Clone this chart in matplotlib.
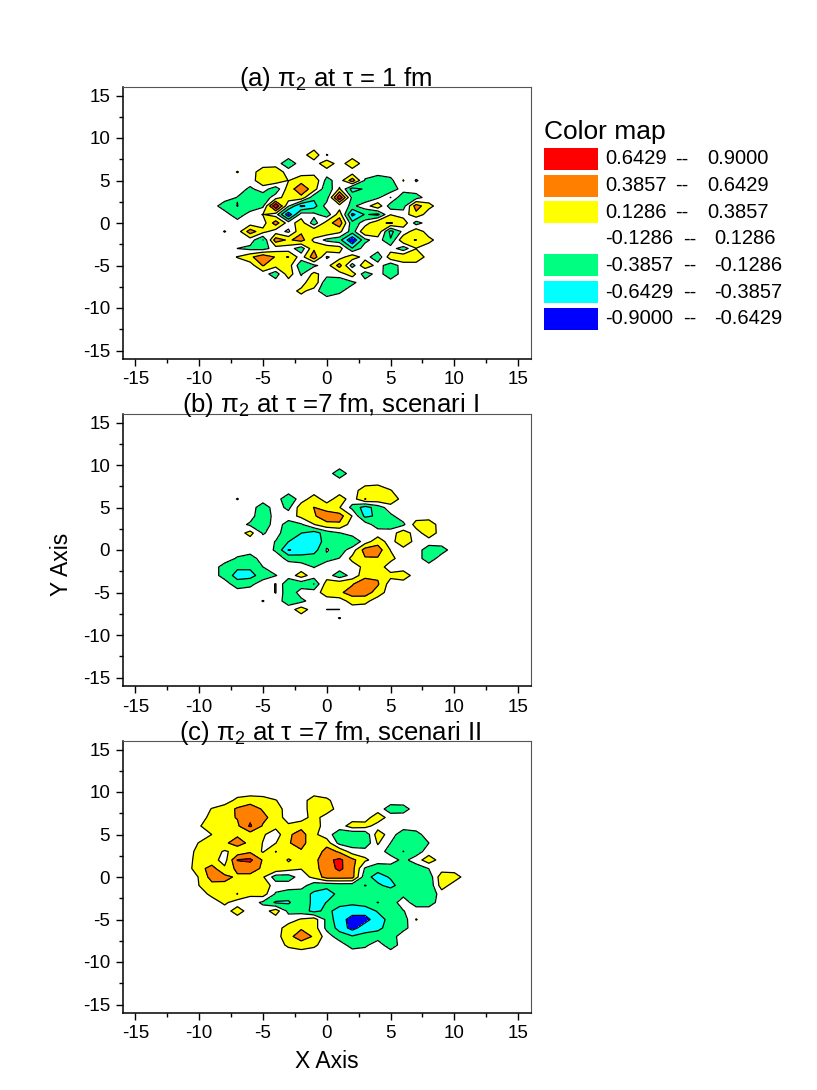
import numpy as np
import matplotlib
matplotlib.use("Agg")
import matplotlib.pyplot as plt
from matplotlib.patches import Rectangle

plt.rcParams['font.family'] = ['Liberation Sans', 'DejaVu Sans']
plt.rcParams['mathtext.fontset'] = 'custom'
plt.rcParams['mathtext.rm'] = 'Liberation Sans'
plt.rcParams['mathtext.it'] = 'DejaVu Serif:italic'
plt.rcParams['axes.unicode_minus'] = False

X_GRID = list(range(-10, 11))
Y_GRID = list(range(9, -10, -1))

# values in hundredths, rows from y=9 down to y=-9, columns from x=-10 to x=10
PANEL_A = [
[0,0,0,0,0,0,0,0,0,0,0,0,0,0,0,0,0,0,0,0,0],
[0,0,0,0,0,0,0,0,0,30,-14,0,0,0,0,0,0,0,0,0,0],
[0,0,0,0,0,0,0,-30,0,0,30,0,30,0,0,0,0,0,0,0,0],
[0,0,0,14,0,28,32,0,0,0,0,0,0,0,0,0,0,0,0,0,0],
[0,0,0,0,0,32,34,12,30,34,-22,0,52,-16,-32,-20,14,-15,0,0,0],
[0,0,0,0,-18,0,-30,26,55,26,-35,16,-50,-35,-35,-30,0,0,0,0,0],
[0,0,0,-14,-34,-30,0,28,32,-32,-26,85,-20,-30,-18,14,-34,-24,0,0,0],
[0,0,-28,-12,-35,-18,88,-10,-70,-50,0,0,-18,0,32,-28,-24,52,20,0,0],
[0,0,0,-30,0,14,0,-85,0,-5,-30,28,-72,-36,-45,12,0,30,0,0,0],
[0,0,0,0,0,0,52,0,26,-28,26,55,-30,0,36,40,30,-24,0,0,0],
[0,0,14,0,52,22,0,-18,34,36,36,20,-26,36,34,-48,-5,30,0,0,0],
[0,0,0,0,0,-39,52,34,50,6,-20,-30,-88,-20,0,-36,36,39,20,0,0],
[0,0,0,-13,-20,-24,0,0,-28,34,32,26,-36,0,0,0,-28,12,0,0,0],
[0,0,0,14,32,60,36,39,0,55,-16,0,30,0,-32,30,34,34,0,0,0],
[0,0,0,0,0,40,22,26,-32,-18,0,50,-26,36,0,-30,0,0,0,0,0],
[0,0,0,0,0,0,-28,28,-16,20,0,0,28,-30,0,-32,0,0,0,0,0],
[0,0,0,0,0,0,0,0,0,36,-36,-30,-18,0,0,0,0,0,0,0,0],
[0,0,0,0,0,0,0,0,20,0,-36,-18,0,0,0,0,0,0,0,0,0],
[0,0,0,0,0,0,0,0,0,0,0,0,0,0,0,0,0,0,0,0,0],
]
PANEL_B = [
[0,0,0,0,0,0,0,0,0,0,0,-28,0,0,0,0,0,0,0,0,0],
[0,0,0,0,0,0,0,0,0,0,0,0,0,0,0,0,0,0,0,0,0],
[0,0,0,0,0,0,0,0,0,0,0,0,0,28,36,14,0,0,0,0,0],
[0,0,0,-14,0,0,0,-32,0,26,0,26,0,39,32,34,0,0,0,0,0],
[0,0,0,0,0,-28,0,-20,28,39,28,14,-20,-50,-26,0,0,0,0,0,0],
[0,0,0,0,0,-36,0,0,20,36,52,50,12,-45,-34,-18,0,0,0,0,0],
[0,0,0,0,-18,-30,0,-24,-16,12,32,34,0,0,-26,-28,-18,24,28,0,0],
[0,0,0,0,22,-16,0,-34,-38,-50,-26,-14,0,0,0,0,28,0,30,0,0],
[0,0,0,0,0,0,-14,-38,-55,-60,-24,-30,-36,0,28,0,38,0,0,0,0],
[0,0,0,0,0,0,-16,-66,-56,-50,-10,-26,0,50,52,12,0,0,-28,-24,0],
[0,0,0,-16,-26,0,0,-20,-26,-24,-20,-12,20,36,36,20,0,0,-28,0,0],
[0,0,-24,-34,-34,-13,0,0,0,-14,0,0,0,20,26,0,0,0,0,0,0],
[0,0,-24,-48,-48,-26,-14,0,24,0,0,-28,-3,28,34,20,28,0,0,0,0],
[0,0,0,-28,-20,0,14,-36,-28,-39,26,32,36,60,42,0,0,0,0,0,0],
[0,0,0,0,0,0,14,-34,0,0,26,34,50,52,26,0,0,0,0,0,0],
[0,0,0,0,0,-14,0,-26,-20,0,0,0,24,20,0,0,0,0,0,0,0],
[0,0,0,0,0,0,0,0,26,0,13,13,0,0,0,0,0,0,0,0,0],
[0,0,0,0,0,0,0,0,0,0,0,-14,0,0,0,0,0,0,0,0,0],
[0,0,0,0,0,0,0,0,0,0,0,0,0,0,0,0,0,0,0,0,0],
]
PANEL_C = [
[0,0,0,20,28,24,14,0,0,28,18,0,0,0,0,0,0,0,0,0,0],
[0,14,26,42,52,36,26,0,0,28,28,0,0,0,0,-26,-24,0,0,0,0],
[0,22,32,40,58,45,28,0,0,24,0,0,0,0,30,0,0,0,0,0,0],
[10,30,34,34,68,36,20,18,30,26,0,0,26,24,0,0,0,0,0,0,0],
[0,13,32,34,26,16,0,34,50,18,0,-30,-36,-34,28,0,-30,-22,0,0,0],
[14,28,34,50,32,12,12,36,52,14,26,-22,-28,-34,16,-13,-30,-26,-13,0,0],
[22,24,10,20,34,10,39,32,34,14,52,34,0,0,0,-24,-39,-26,0,0,0],
[26,24,2,66,70,36,34,10,24,30,58,70,46,18,0,0,-20,0,28,0,0],
[30,48,18,46,46,36,34,24,14,30,52,70,48,-16,-30,-26,-14,-28,-12,0,0],
[14,50,46,34,34,16,-26,-26,0,20,50,50,48,-30,-48,-36,-16,-30,-30,30,26],
[13,30,32,34,34,30,0,0,0,-30,-34,-30,-30,-39,-34,-46,-26,-30,-34,26,0],
[0,20,26,39,18,26,-16,-26,-30,-42,-46,-34,-30,-32,-30,-20,-20,-30,-34,0,0],
[0,0,18,0,0,-18,-42,-42,-20,-46,-38,-30,-32,-26,-12,-26,0,-26,-26,0,0],
[0,0,0,26,0,0,26,-20,-26,-46,-32,-48,-56,-54,-36,-18,-14,0,0,0,0],
[0,0,0,0,0,0,0,0,16,26,-20,-56,-72,-74,-50,-30,-26,14,0,0,0],
[0,0,0,0,0,0,0,26,36,26,-20,-48,-74,-50,-46,-26,-20,0,0,0,0],
[0,0,0,0,0,0,0,32,50,36,0,-26,-36,-30,-24,-24,0,0,0,0,0],
[0,0,0,0,0,0,0,18,28,18,0,0,-24,-18,0,-28,0,0,0,0,0],
[0,0,0,0,0,0,0,0,0,0,0,0,0,0,0,0,0,0,0,0,0],
]

LEVELS = [-0.9, -0.6429, -0.3857, -0.1286, 0.1286, 0.3857, 0.6429, 0.9]
COLORS = ['#0000ff', '#00ffff', '#00ff80', '#ffffff', '#ffff00', '#ff8000', '#ff0000']
TITLES = [r'(a) $\mathrm{\pi}_{2}$ at $\mathrm{\tau}$ = 1 fm',
          r'(b) $\mathrm{\pi}_{2}$ at $\mathrm{\tau}$ =7 fm, scenari I',
          r'(c) $\mathrm{\pi}_{2}$ at $\mathrm{\tau}$ =7 fm, scenari II']
LEGEND_LOW = ['0.6429', '0.3857', '0.1286', '-0.1286', '-0.3857', '-0.6429', '-0.9000']
LEGEND_HIGH = ['0.9000', '0.6429', '0.3857', '0.1286', '-0.1286', '-0.3857', '-0.6429']
LEGEND_COLORS = COLORS[::-1]
TICKS = [-15, -10, -5, 0, 5, 10, 15]
MINOR = [-12.5, -7.5, -2.5, 2.5, 7.5, 12.5]

W, H = 817, 1090
fig = plt.figure(figsize=(W / 100, H / 100), dpi=100)

def axes_px(l, r, t, b):
    return fig.add_axes([l / W, 1 - b / H, (r - l) / W, (b - t) / H])

BOXES = [(122.5, 531, 87, 359), (122.5, 531, 414, 686), (122.5, 531, 741, 1013)]
TITLE_Y = [79, 405, 733]
TITLE_X = [336, 330, 330]
x = np.array([-11] + X_GRID + [11])
y = np.array([10] + Y_GRID + [-10])

for i, (data, box) in enumerate(zip((PANEL_A, PANEL_B, PANEL_C), BOXES)):
    ax = axes_px(*box)
    z = np.pad(np.array(data, float) / 100, 1)
    ax.contourf(x, y, z, levels=LEVELS, colors=COLORS, corner_mask=False)
    ax.contour(x, y, z, levels=LEVELS, colors='black', linewidths=0.9, linestyles='solid')
    ax.set_xlim(-16, 16)
    ax.set_ylim(-16, 16)
    ax.set_xticks(TICKS)
    ax.set_yticks(TICKS)
    ax.set_xticks(MINOR, minor=True)
    ax.set_yticks(MINOR, minor=True)
    ax.tick_params(which='major', length=5, width=1, labelsize=13.5, pad=4)
    ax.tick_params(which='minor', length=3, width=1)
    for s in ('top', 'right'):
        ax.spines[s].set_linewidth(0.8)
        ax.spines[s].set_color('#555555')
    for s in ('left', 'bottom'):
        ax.spines[s].set_linewidth(1.1)
    fig.text(TITLE_X[i] / W, 1 - TITLE_Y[i] / H, TITLES[i], fontsize=18.5,
             ha='center', va='center', zorder=10)

fig.text(61 / W, 1 - 564 / H, 'Y Axis', fontsize=16.5, rotation=90, ha='center', va='center')
fig.text(327 / W, 1 - 1062 / H, 'X Axis', fontsize=16.5, ha='center', va='center')

fig.text(544 / W, 1 - 132 / H, 'Color map', fontsize=19, ha='left', va='center')
for i, (lo, hi, c) in enumerate(zip(LEGEND_LOW, LEGEND_HIGH, LEGEND_COLORS)):
    top = 148 + 26.6 * i
    fig.add_artist(Rectangle((544 / W, 1 - (top + 22) / H), 54 / W, 22 / H,
                             transform=fig.transFigure, facecolor=c, edgecolor='none'))
    yc = 1 - (top + 11) / H
    fig.text(605 / W, yc, lo, fontsize=14.5, ha='left', va='center')
    neg = lo.startswith('-')
    fig.text((690 if neg else 682) / W, yc, '--', fontsize=14.5, ha='center', va='center')
    fig.text((714 if neg else 707) / W, yc, hi, fontsize=14.5, ha='left', va='center')

fig.savefig('out.png', dpi=100)
